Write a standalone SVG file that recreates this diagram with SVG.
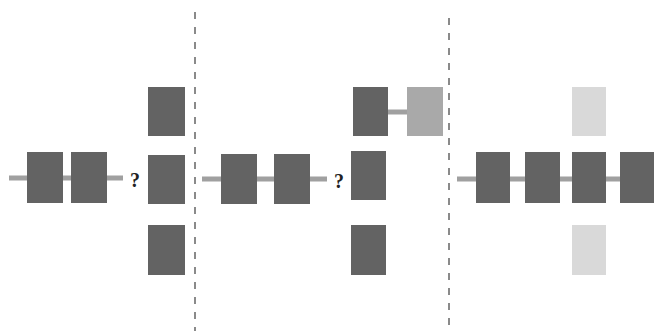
<svg xmlns="http://www.w3.org/2000/svg" width="654" height="331" viewBox="0 0 654 331">
<style>
.d{fill:#636363}
.m{fill:#a9a9a9}
.l{fill:#d9d9d9}
.c{stroke:#a0a0a0;stroke-width:5;fill:none}
.s{stroke:#8a8a8a;stroke-width:2;stroke-dasharray:7 8;fill:none}
.q{font-family:"Liberation Serif",serif;font-weight:bold;font-size:20px;fill:#222}
</style>
<rect width="654" height="331" fill="#fff"/>
<g id="separators">
<line class="s" x1="195" y1="12" x2="195" y2="331"/>
<line class="s" x1="449" y1="18" x2="449" y2="331"/>
</g>
<g id="connectors">
<line class="c" x1="9" y1="178" x2="123" y2="178"/>
<line class="c" x1="202" y1="179" x2="327" y2="179"/>
<line class="c" x1="388" y1="112" x2="407" y2="112"/>
<line class="c" x1="457" y1="179" x2="654" y2="179"/>
</g>
<g id="panel1">
<g id="p1a"><rect class="d" x="27" y="152" width="36" height="51"/></g>
<g id="p1b"><rect class="d" x="71" y="152" width="36" height="51"/></g>
<text class="q" x="135" y="187" text-anchor="middle">?</text>
<g id="p1c1"><rect class="d" x="148" y="87" width="37" height="49"/></g>
<g id="p1c2"><rect class="d" x="148" y="155" width="37" height="49"/></g>
<g id="p1c3"><rect class="d" x="148" y="225" width="37" height="50"/></g>
</g>
<g id="panel2">
<g id="p2a"><rect class="d" x="221" y="154" width="36" height="50"/></g>
<g id="p2b"><rect class="d" x="274" y="154" width="36" height="50"/></g>
<text class="q" x="339" y="188" text-anchor="middle">?</text>
<g id="p2c1"><rect class="d" x="353" y="87" width="35" height="49"/></g>
<g id="p2c1b"><rect class="m" x="407" y="87" width="36" height="49"/></g>
<g id="p2c2"><rect class="d" x="351" y="151" width="35" height="49"/></g>
<g id="p2c3"><rect class="d" x="351" y="225" width="35" height="50"/></g>
</g>
<g id="panel3">
<g id="p3a"><rect class="d" x="476" y="152" width="34" height="51"/></g>
<g id="p3b"><rect class="d" x="525" y="152" width="35" height="51"/></g>
<g id="p3c"><rect class="d" x="572" y="152" width="34" height="51"/></g>
<g id="p3d"><rect class="d" x="620" y="152" width="34" height="51"/></g>
<g id="p3top"><rect class="l" x="572" y="87" width="34" height="49"/></g>
<g id="p3bot"><rect class="l" x="572" y="225" width="34" height="50"/></g>
</g>
</svg>
